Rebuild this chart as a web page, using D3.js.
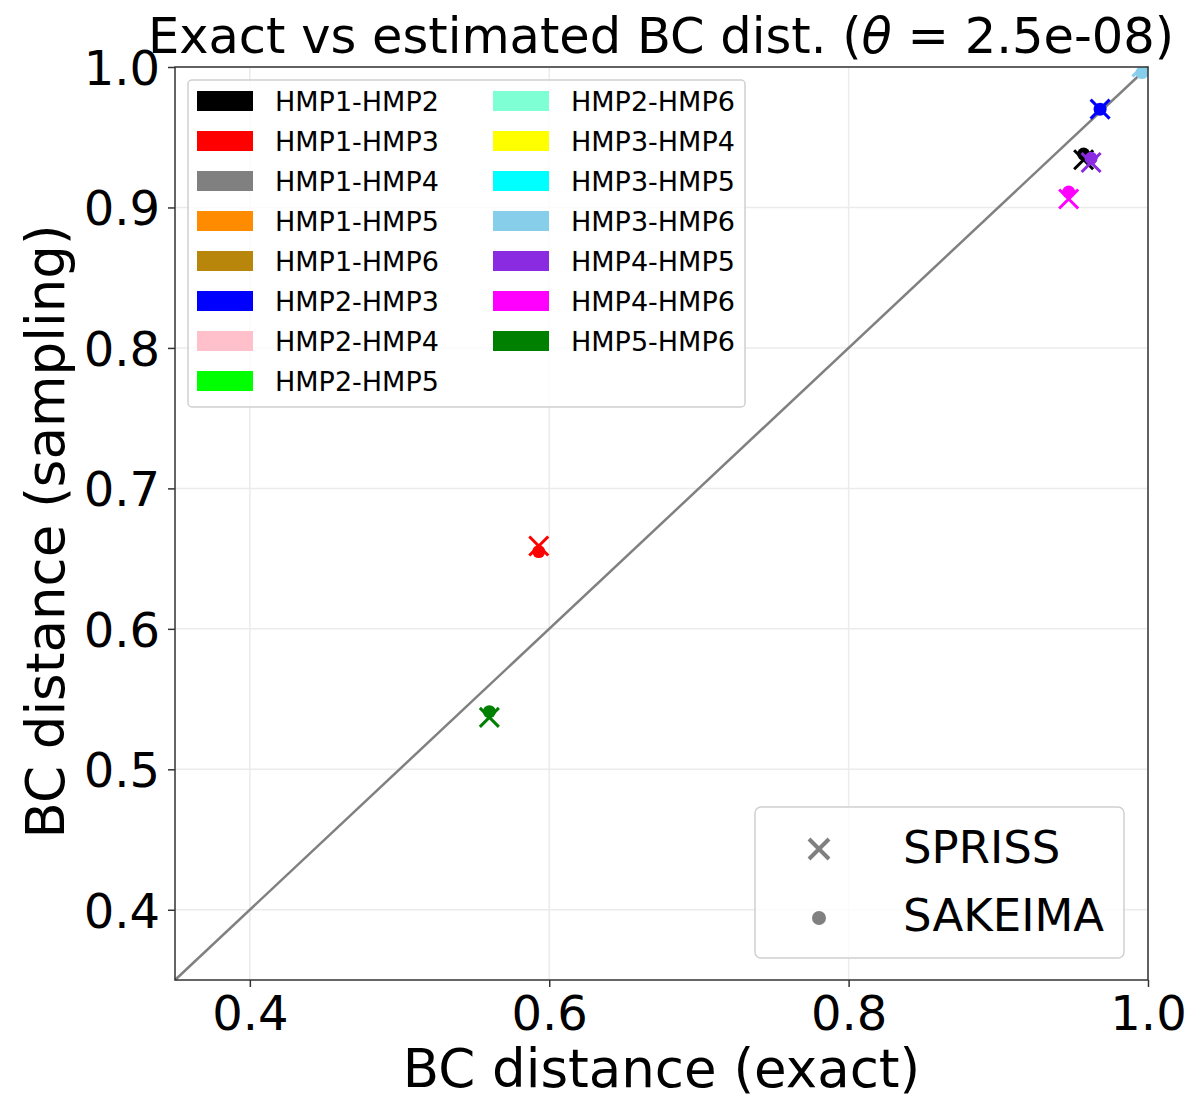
<!DOCTYPE html>
<html>
<head>
<meta charset="utf-8">
<script src="https://cdn.jsdelivr.net/npm/d3@7"></script>
<style>
  body { margin: 0; background: #fff; }
  text { font-family: "DejaVu Sans", sans-serif; }
</style>
</head>
<body>
<div id="chart"></div>
<script>
// pairs, colours and values
const pairs = ["HMP1-HMP2", "HMP1-HMP3", "HMP1-HMP4", "HMP1-HMP5", "HMP1-HMP6",
  "HMP2-HMP3", "HMP2-HMP4", "HMP2-HMP5", "HMP2-HMP6", "HMP3-HMP4",
  "HMP3-HMP5", "HMP3-HMP6", "HMP4-HMP5", "HMP4-HMP6", "HMP5-HMP6"];
const pairColors = ["#000000", "#ff0000", "#808080", "#ff8c00", "#b8860b",
  "#0000ff", "#ffc0cb", "#00ff00", "#7fffd4", "#ffff00",
  "#00ffff", "#87ceeb", "#8a2be2", "#ff00ff", "#008000"];

// visible points only (the rest sit in the clipped top-right corner)
const shownPairs = ["HMP2-HMP6", "HMP3-HMP6", "HMP1-HMP3", "HMP5-HMP6", "HMP2-HMP3",
  "HMP1-HMP2", "HMP4-HMP5", "HMP4-HMP6"];
const exactVals = [1.0, 0.996, 0.593, 0.560, 0.968, 0.957, 0.962, 0.947];
const sprissVals = [1.0, 1.0, 0.659, 0.537, 0.970, 0.934, 0.932, 0.906];
const sakeimaVals = [0.998, 0.996, 0.655, 0.541, 0.970, 0.938, 0.935, 0.911];

const xTicks = [0.4, 0.6, 0.8, 1.0];
const yTicks = [0.4, 0.5, 0.6, 0.7, 0.8, 0.9, 1.0];

const width = 1193, height = 1099;
const margin = {top: 67, right: 45, bottom: 119, left: 175};

const svg = d3.select("#chart").append("svg")
  .attr("width", width)
  .attr("height", height);

const x = d3.scaleLinear().domain([0.35, 1.0]).range([margin.left, width - margin.right]);
const y = d3.scaleLinear().domain([0.35, 1.0]).range([height - margin.bottom, margin.top]);

const colorOf = d3.scaleOrdinal().domain(pairs).range(pairColors);

svg.append("defs").append("clipPath").attr("id", "plot-clip")
  .append("rect")
  .attr("x", x.range()[0]).attr("y", y.range()[1])
  .attr("width", x.range()[1] - x.range()[0])
  .attr("height", y.range()[0] - y.range()[1]);

// grid
svg.append("g").selectAll("line.gx")
  .data(xTicks).enter().append("line")
  .attr("x1", d => x(d)).attr("x2", d => x(d))
  .attr("y1", y.range()[0]).attr("y2", y.range()[1])
  .style("stroke", "#ebebeb").style("stroke-width", 1.5);
svg.append("g").selectAll("line.gy")
  .data(yTicks).enter().append("line")
  .attr("y1", d => y(d)).attr("y2", d => y(d))
  .attr("x1", x.range()[0]).attr("x2", x.range()[1])
  .style("stroke", "#ebebeb").style("stroke-width", 1.5);

// diagonal
svg.append("line")
  .attr("x1", x(0.35)).attr("y1", y(0.35))
  .attr("x2", x(1.0)).attr("y2", y(1.0))
  .style("stroke", "#808080").style("stroke-width", 2.5);

// points
const plot = svg.append("g").attr("clip-path", "url(#plot-clip)");
shownPairs.forEach((p, i) => {
  const c = colorOf(p);
  plot.append("circle")
    .attr("cx", x(exactVals[i])).attr("cy", y(sakeimaVals[i]))
    .attr("r", 6.5).style("fill", c);
  const cx = x(exactVals[i]), cy = y(sprissVals[i]), s = 9.5;
  plot.append("path")
    .attr("d", `M${cx - s},${cy - s}L${cx + s},${cy + s}M${cx - s},${cy + s}L${cx + s},${cy - s}`)
    .style("stroke", c).style("stroke-width", 3).style("fill", "none");
});

// frame
svg.append("rect")
  .attr("x", x.range()[0]).attr("y", y.range()[1])
  .attr("width", x.range()[1] - x.range()[0])
  .attr("height", y.range()[0] - y.range()[1])
  .style("fill", "none").style("stroke", "#333").style("stroke-width", 1.5);

// axes
const xAxis = svg.append("g")
  .attr("transform", `translate(0,${y.range()[0]})`)
  .call(d3.axisBottom(x).tickValues(xTicks).tickFormat(d3.format(".1f")).tickSize(7).tickPadding(8));
const yAxis = svg.append("g")
  .attr("transform", `translate(${x.range()[0]},0)`)
  .call(d3.axisLeft(y).tickValues(yTicks).tickFormat(d3.format(".1f")).tickSize(7).tickPadding(8));
[xAxis, yAxis].forEach(a => {
  a.select(".domain").remove();
  a.selectAll(".tick line").style("stroke", "#333").style("stroke-width", 1.5);
  a.selectAll(".tick text").style("font-size", "48px").style("fill", "#000")
    .style("font-family", "'DejaVu Sans', sans-serif");
});
xAxis.selectAll(".tick text").attr("dy", "0.72em");
yAxis.selectAll(".tick text").attr("dy", "0.36em");

// axis labels
svg.append("text")
  .attr("x", (x.range()[0] + x.range()[1]) / 2)
  .attr("y", 1087)
  .attr("text-anchor", "middle")
  .style("font-size", "53px")
  .text("BC distance (exact)");
svg.append("text")
  .attr("transform", `translate(64,${(y.range()[0] + y.range()[1]) / 2 + 8}) rotate(-90)`)
  .attr("text-anchor", "middle")
  .style("font-size", "53px")
  .text("BC distance (sampling)");

// title
const title = svg.append("text")
  .attr("x", 661).attr("y", 53)
  .attr("text-anchor", "middle")
  .style("font-size", "49.5px");
title.append("tspan").text("Exact vs estimated BC dist. (");
title.append("tspan").style("font-style", "italic").text("θ");
title.append("tspan").text(" = 2.5e-08)");

// colour legend
const leg = svg.append("g");
leg.append("rect")
  .attr("x", 188).attr("y", 80).attr("width", 557).attr("height", 327).attr("rx", 4)
  .style("fill", "rgba(255,255,255,0.8)").style("stroke", "#d0d0d0").style("stroke-width", 1.5);
pairs.forEach((p, i) => {
  const col = i < 8 ? 0 : 1;
  const row = i < 8 ? i : i - 8;
  const lx = col === 0 ? 197 : 493;
  const ly = 101 + row * 40;
  leg.append("rect")
    .attr("x", lx).attr("y", ly - 10).attr("width", 56).attr("height", 20)
    .style("fill", colorOf(p));
  leg.append("text")
    .attr("x", lx + 78).attr("y", ly)
    .attr("dy", "0.36em")
    .style("font-size", "27px")
    .text(p);
});

// method legend
const leg2 = svg.append("g");
leg2.append("rect")
  .attr("x", 755).attr("y", 807).attr("width", 369).attr("height", 151).attr("rx", 6)
  .style("fill", "rgba(255,255,255,0.8)").style("stroke", "#d0d0d0").style("stroke-width", 1.5);
const mx = 819;
leg2.append("path")
  .attr("d", `M${mx - 10},${849 - 10}L${mx + 10},${849 + 10}M${mx - 10},${849 + 10}L${mx + 10},${849 - 10}`)
  .style("stroke", "#808080").style("stroke-width", 4);
leg2.append("circle").attr("cx", mx).attr("cy", 918).attr("r", 7).style("fill", "#808080");
leg2.append("text").attr("x", 903).attr("y", 847).attr("dy", "0.36em")
  .style("font-size", "45px").text("SPRISS");
leg2.append("text").attr("x", 903).attr("y", 915).attr("dy", "0.36em")
  .style("font-size", "45px").text("SAKEIMA");
</script>
</body>
</html>
